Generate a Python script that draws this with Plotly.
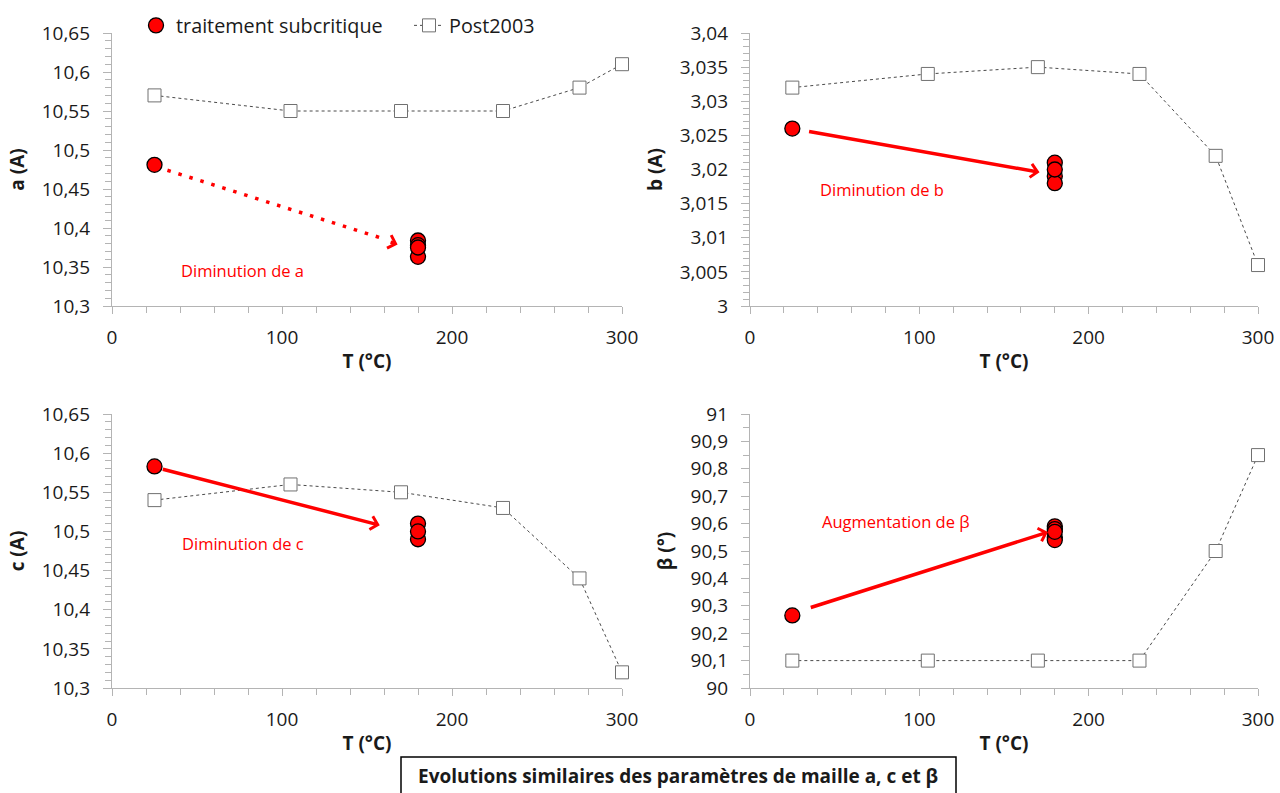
import plotly.graph_objects as go

# ---------------- data ----------------
T_post = [25, 105, 170, 230, 275, 300]
a_post = [10.57, 10.55, 10.55, 10.55, 10.58, 10.61]
b_post = [3.032, 3.034, 3.035, 3.034, 3.022, 3.006]
c_post = [10.54, 10.56, 10.55, 10.53, 10.44, 10.32]
beta_post = [90.10, 90.10, 90.10, 90.10, 90.50, 90.85]

T_sub_a = [25, 180, 180, 180, 180]
a_sub = [10.481, 10.384, 10.378, 10.363, 10.375]
T_sub_b = [25, 180, 180, 180, 180]
b_sub = [3.026, 3.021, 3.019, 3.018, 3.020]
T_sub_c = [25, 180, 180, 180]
c_sub = [10.583, 10.510, 10.490, 10.500]
T_sub_beta = [25, 180, 180, 180, 180, 180]
beta_sub = [90.265, 90.590, 90.580, 90.550, 90.540, 90.570]

x_ticks = [0, 100, 200, 300]
a_ticks = [10.3, 10.35, 10.4, 10.45, 10.5, 10.55, 10.6, 10.65]
a_ticktext = ["10,3", "10,35", "10,4", "10,45", "10,5", "10,55", "10,6", "10,65"]
b_ticks = [3.0, 3.005, 3.01, 3.015, 3.02, 3.025, 3.03, 3.035, 3.04]
b_ticktext = ["3", "3,005", "3,01", "3,015", "3,02", "3,025", "3,03", "3,035", "3,04"]
c_ticks = a_ticks
c_ticktext = a_ticktext
beta_ticks = [90.0, 90.1, 90.2, 90.3, 90.4, 90.5, 90.6, 90.7, 90.8, 90.9, 91.0]
beta_ticktext = ["90", "90,1", "90,2", "90,3", "90,4", "90,5", "90,6", "90,7", "90,8", "90,9", "91"]

series_sub_name = "traitement subcritique"
series_post_name = "Post2003"
y_titles = ["a (A)", "b (A)", "c (A)", "β (°)"]
x_title = "T (°C)"
notes = ["Diminution de a", "Diminution de b", "Diminution de c", "Augmentation de β"]
caption = "Evolutions similaires des paramètres de maille a, c et β"

# ---------------- styling ----------------
FONT = "Open Sans"
W, H = 1280, 793
AXIS_COL = "#b4b4b4"
TXT_COL = "#1a1a1a"
RED = "#ff0000"

def px_x(p):
    return p / W

def px_y(p):
    return 1 - p / H

dom_x_left = [px_x(112), px_x(622)]
dom_x_right = [px_x(750), px_x(1258)]
dom_y_top = [px_y(306), px_y(33)]
dom_y_bot = [px_y(688), px_y(414)]

fig = go.Figure()

panels = [
    ("x", "y", T_sub_a, a_sub, a_post),
    ("x2", "y2", T_sub_b, b_sub, b_post),
    ("x3", "y3", T_sub_c, c_sub, c_post),
    ("x4", "y4", T_sub_beta, beta_sub, beta_post),
]

for i, (xa, ya, tx, sub, post) in enumerate(panels):
    fig.add_trace(go.Scatter(
        x=T_post, y=post, xaxis=xa, yaxis=ya,
        mode="lines+markers", name=series_post_name,
        legendgroup="post", showlegend=(i == 0), legendrank=2,
        line=dict(color="#4a4a4a", width=1, dash="dot"),
        marker=dict(symbol="square", size=13, color="white",
                    line=dict(color="#707070", width=1)),
        cliponaxis=False,
    ))
    fig.add_trace(go.Scatter(
        x=tx, y=sub, xaxis=xa, yaxis=ya,
        mode="markers", name=series_sub_name,
        legendgroup="sub", showlegend=(i == 0), legendrank=1,
        marker=dict(symbol="circle", size=15, color=RED,
                    line=dict(color="black", width=1.3)),
        cliponaxis=False,
    ))

def xaxis_cfg(domain, anchor):
    return dict(
        domain=domain, anchor=anchor, range=[0, 300], automargin=False,
        tickvals=x_ticks, ticktext=[str(v) for v in x_ticks],
        showline=True, linecolor=AXIS_COL, linewidth=1.3,
        ticks="outside", ticklen=7, tickcolor=AXIS_COL, tickwidth=1,
        minor=dict(dtick=20, ticks="outside", ticklen=6, tickcolor=AXIS_COL, tickwidth=1),
        showgrid=False, zeroline=False, ticklabelstandoff=7,
        tickfont=dict(family=FONT, size=19, color=TXT_COL),
        title=dict(text=x_title, font=dict(family=FONT, size=19, color=TXT_COL, weight="bold"),
                   standoff=5),
        fixedrange=True,
    )

def yaxis_cfg(domain, anchor, rng, tv, tt, mdt, title):
    return dict(
        domain=domain, anchor=anchor, range=rng, automargin=False,
        tickvals=tv, ticktext=tt,
        showline=True, linecolor=AXIS_COL, linewidth=1.3,
        ticks="outside", ticklen=8, tickcolor=AXIS_COL, tickwidth=1,
        minor=dict(dtick=mdt, ticks="outside", ticklen=6, tickcolor=AXIS_COL, tickwidth=1),
        showgrid=False, zeroline=False, ticklabelstandoff=9,
        tickfont=dict(family=FONT, size=19, color=TXT_COL),
        title=dict(text=title, font=dict(family=FONT, size=19, color=TXT_COL, weight="bold"),
                   standoff=12),
        fixedrange=True,
    )

fig.update_layout(
    xaxis=xaxis_cfg(dom_x_left, "y"),
    yaxis=yaxis_cfg(dom_y_top, "x", [10.3, 10.65], a_ticks, a_ticktext, 0.01, y_titles[0]),
    xaxis2=xaxis_cfg(dom_x_right, "y2"),
    yaxis2=yaxis_cfg(dom_y_top, "x2", [3.0, 3.04], b_ticks, b_ticktext, 0.001, y_titles[1]),
    xaxis3=xaxis_cfg(dom_x_left, "y3"),
    yaxis3=yaxis_cfg(dom_y_bot, "x3", [10.3, 10.65], c_ticks, c_ticktext, 0.01, y_titles[2]),
    xaxis4=xaxis_cfg(dom_x_right, "y4"),
    yaxis4=yaxis_cfg(dom_y_bot, "x4", [90.0, 91.0], beta_ticks, beta_ticktext, 0.05, y_titles[3]),
)

# ---------------- arrows and notes ----------------
annotations = []
# a : dotted arrow (line drawn as shape, head as short annotation arrow)
fig.add_shape(type="line", xref="x", yref="y", x0=32.6, y0=10.474, x1=160, y1=10.386,
              line=dict(color=RED, width=3.5, dash="3.5px,8px"), layer="above")
annotations.append(dict(xref="x", yref="y", x=168, y=10.379, axref="x", ayref="y",
                        ax=163, ay=10.3825, showarrow=True, arrowcolor=RED, arrowhead=4,
                        arrowsize=0.75, arrowwidth=3.5, text=""))
# b
annotations.append(dict(xref="x2", yref="y2", x=171, y=3.0196, axref="x2", ayref="y2",
                        ax=34, ay=3.0256, showarrow=True, arrowcolor=RED, arrowhead=4,
                        arrowsize=0.75, arrowwidth=3.5, text=""))
# c
annotations.append(dict(xref="x3", yref="y3", x=157.5, y=10.508, axref="x3", ayref="y3",
                        ax=29, ay=10.580, showarrow=True, arrowcolor=RED, arrowhead=4,
                        arrowsize=0.75, arrowwidth=3.5, text=""))
# beta
annotations.append(dict(xref="x4", yref="y4", x=176, y=90.569, axref="x4", ayref="y4",
                        ax=35, ay=90.292, showarrow=True, arrowcolor=RED, arrowhead=4,
                        arrowsize=0.75, arrowwidth=3.5, text=""))

note_pos = [("x", "y", 76.8, 10.346), ("x2", "y2", 78, 3.017),
            ("x3", "y3", 76.8, 10.484), ("x4", "y4", 86.2, 90.606)]
for (xr, yr, xv, yv), txt in zip(note_pos, notes):
    annotations.append(dict(xref=xr, yref=yr, x=xv, y=yv, text=txt, showarrow=False,
                            xanchor="center", yanchor="middle",
                            font=dict(family=FONT, size=16.5, color=RED)))

# caption box
fig.add_shape(type="rect", xref="paper", yref="paper",
              x0=px_x(401), x1=px_x(956), y0=-0.05, y1=px_y(757),
              line=dict(color="black", width=1.5), fillcolor="white", layer="above")
annotations.append(dict(xref="paper", yref="paper", x=px_x(678), y=px_y(776),
                        text=caption, showarrow=False, xanchor="center", yanchor="middle",
                        font=dict(family=FONT, size=19, color=TXT_COL, weight="bold")))

fig.update_layout(
    annotations=annotations,
    width=W, height=H,
    margin=dict(l=0, r=0, t=0, b=0, autoexpand=False),
    paper_bgcolor="white", plot_bgcolor="white",
    separators=", ",
    font=dict(family=FONT, color=TXT_COL),
    showlegend=True,
    legend=dict(orientation="h", x=px_x(136), y=px_y(6), xanchor="left", yanchor="top",
                font=dict(family=FONT, size=19.8, color=TXT_COL),
                bgcolor="rgba(0,0,0,0)", traceorder="normal", itemwidth=30,
                entrywidth=228),
)

fig.write_html(
    "out.html",
    config={"displayModeBar": False},
    post_script="document.body.style.margin='0';document.body.style.padding='0';"
                "document.body.style.overflow='hidden';",
)
